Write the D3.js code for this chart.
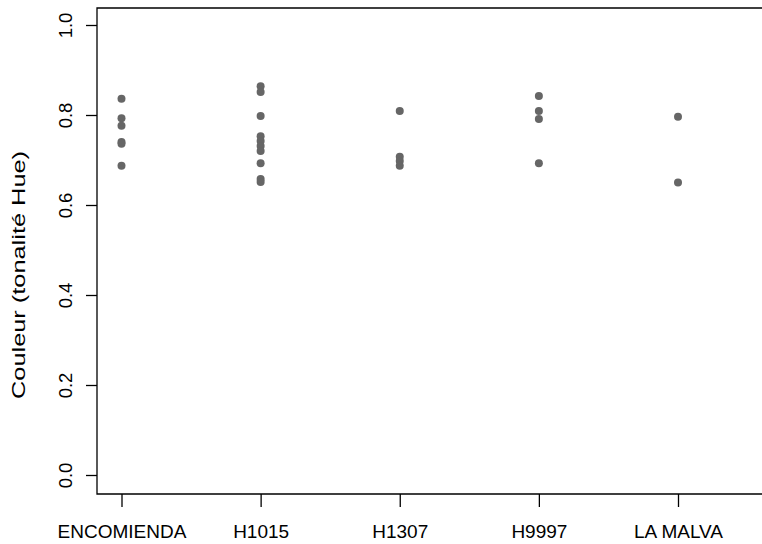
<!DOCTYPE html>
<html><head><meta charset="utf-8">
<script src="https://cdn.jsdelivr.net/npm/d3@7"></script>
<style>body{margin:0;background:#fff}svg{display:block}text{font-family:"Liberation Sans",Arial,sans-serif}</style>
</head><body>
<script>
const categories = ["ENCOMIENDA","H1015","H1307","H9997","LA MALVA"];
const encomienda = [0.836,0.793,0.776,0.740,0.736,0.687];
const h1015 = [0.864,0.851,0.798,0.753,0.742,0.731,0.720,0.693,0.658,0.651];
const h1307 = [0.809,0.707,0.698,0.687];
const h9997 = [0.842,0.809,0.791,0.693];
const laMalva = [0.796,0.650];
const yTicks = [0,0.2,0.4,0.6,0.8,1.0];
const yLabel = "Couleur (tonalité Hue)";

(function(){
const seriesValues = [encomienda,h1015,h1307,h9997,laMalva];
const points = [];
seriesValues.forEach((vals,i)=>vals.forEach(v=>points.push({cat:categories[i],v})));

const W=762,H=544;
const svg=d3.select("body").append("svg").attr("width",W).attr("height",H);
const x=d3.scalePoint().domain(categories).range([121.5,678]);
const y=d3.scaleLinear().domain([0,1]).range([475,25]);
const pLeft=97, pTop=8, pBottom=494, pRight=790;

svg.append("path").attr("d",`M${pRight},${pTop}H${pLeft}V${pBottom}H${pRight}`)
  .attr("fill","none").attr("stroke","#000").attr("stroke-width",1.3);

const xAxis=svg.append("g").attr("transform",`translate(0,${pBottom})`)
  .call(d3.axisBottom(x).tickSize(13).tickPadding(18));
xAxis.select(".domain").remove();
xAxis.selectAll("line").attr("stroke","#000").attr("stroke-width",1.3);
xAxis.selectAll("text").attr("font-size",19).attr("fill","#000").attr("font-family","Liberation Sans");

const yAxis=svg.append("g").attr("transform",`translate(${pLeft},0)`)
  .call(d3.axisLeft(y).tickValues(yTicks).tickFormat(d3.format(".1f")).tickSize(11).tickPadding(0));
yAxis.select(".domain").remove();
yAxis.selectAll("line").attr("stroke","#000").attr("stroke-width",1.3);
yAxis.selectAll("text").attr("font-size",18.5).attr("fill","#000").attr("font-family","Liberation Sans")
  .attr("transform","translate(-25,0) rotate(-90)").attr("x",0).attr("dy","0").attr("text-anchor","middle");

svg.append("text").attr("transform",`translate(25,${y(0.5)+25}) rotate(-90)`)
  .attr("text-anchor","middle").attr("font-size",19).attr("fill","#000")
  .attr("textLength",248).attr("lengthAdjust","spacingAndGlyphs").text(yLabel);

svg.append("g").selectAll("circle").data(points).join("circle")
  .attr("cx",d=>x(d.cat)).attr("cy",d=>y(d.v)).attr("r",4).attr("fill","#666");
})();
</script>
</body></html>
